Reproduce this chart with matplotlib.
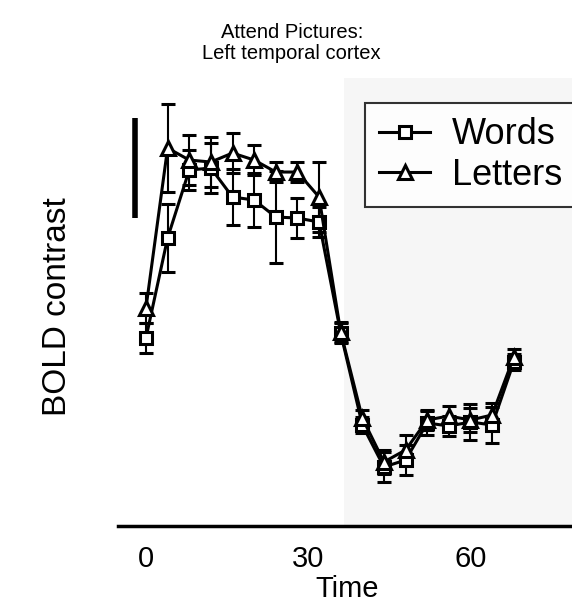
import numpy as np
import matplotlib
matplotlib.use("Agg")
import matplotlib.pyplot as plt

plt.rcParams['font.family'] = ['Liberation Sans', 'DejaVu Sans']

# time points (s)
time = [0, 4, 8, 12, 16, 20, 24, 28, 32, 36, 40, 44, 48, 52, 56, 60, 64, 68]

# BOLD contrast, arbitrary units
words = [0.94, 1.44, 1.78, 1.79, 1.645, 1.63, 1.545, 1.54, 1.52, 0.965,
         0.505, 0.295, 0.33, 0.515, 0.50, 0.52, 0.505, 0.82]
words_err = [0.075, 0.17, 0.10, 0.125, 0.14, 0.135, 0.23, 0.10, 0.075, 0.05,
             0.04, 0.075, 0.075, 0.06, 0.05, 0.09, 0.09, 0.04]

letters = [1.09, 1.89, 1.83, 1.82, 1.865, 1.83, 1.77, 1.77, 1.645, 0.97,
           0.54, 0.32, 0.38, 0.53, 0.55, 0.53, 0.555, 0.845]
letters_err = [0.075, 0.22, 0.125, 0.125, 0.10, 0.075, 0.05, 0.05, 0.175, 0.05,
               0.04, 0.06, 0.075, 0.05, 0.05, 0.06, 0.06, 0.04]

xticks = [0, 30, 60]
shade_start = 36.6
scale_bar = (1.54, 2.04)

fig = plt.figure(figsize=(5.72, 6.05), dpi=100)
ax = fig.add_axes([0.206, 0.1306, 0.80, 0.7404])

# rest period shading
ax.axvspan(shade_start, 90, color='#f6f6f6', zorder=0, lw=0)

# scale bar
ax.plot([-2, -2], scale_bar, color='black', lw=4, solid_capstyle='butt')

ax.errorbar(time, words, yerr=words_err, color='black', lw=2.2, elinewidth=1.5,
            capsize=5, capthick=1.5, marker='s', ms=9, mfc='white', mec='black',
            mew=2.2, label='Words', zorder=3)
ax.errorbar(time, letters, yerr=letters_err, color='black', lw=2.2, elinewidth=1.5,
            capsize=5, capthick=1.5, marker='^', ms=10, mfc='white', mec='black',
            mew=2.2, label='Letters', zorder=3)

ax.set_xlim(-5.2, 79.4)
ax.set_ylim(0, 2.24)

for s in ['top', 'right', 'left']:
    ax.spines[s].set_visible(False)
ax.spines['bottom'].set_linewidth(2.5)
ax.set_yticks([])
ax.set_xticks(xticks)
ax.tick_params(axis='x', length=0, pad=14, labelsize=21)
ax.set_xlabel('Time', fontsize=21, labelpad=1)

fig.text(0.1, 0.493, 'BOLD contrast', rotation=90, fontsize=24,
         ha='center', va='center')
fig.text(0.51, 0.962, 'Attend Pictures:\nLeft temporal cortex', fontsize=14.5,
         ha='center', va='top', linespacing=1.15)

handles, labels = ax.get_legend_handles_labels()
handles = [h[0] for h in handles]
leg = fig.legend(handles, labels, loc='upper left', bbox_to_anchor=(0.638, 0.83),
                 bbox_transform=fig.transFigure, borderaxespad=0, fontsize=26,
                 frameon=True, fancybox=False, handlelength=1.4,
                 handletextpad=0.6, borderpad=0.4, labelspacing=0.15)
leg.get_frame().set_edgecolor('black')
leg.get_frame().set_linewidth(1.5)

fig.savefig('out.png', dpi=100)
